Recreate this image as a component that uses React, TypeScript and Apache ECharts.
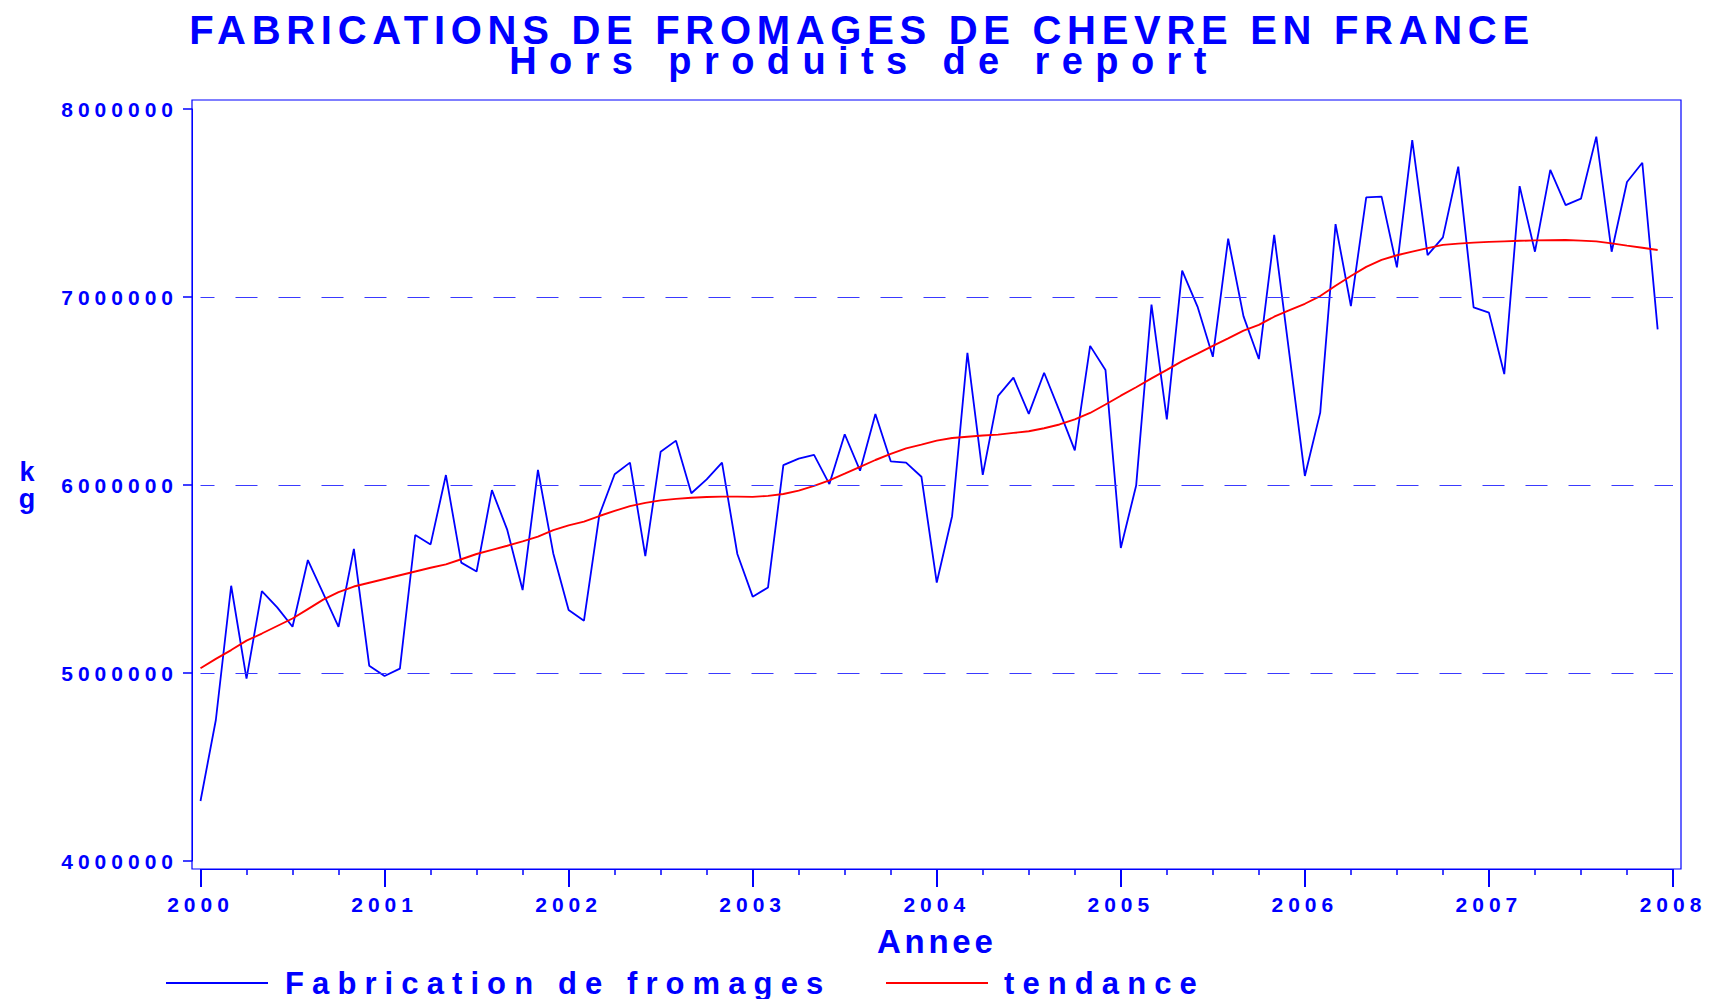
import React, { useEffect, useRef } from 'react';
import * as echarts from 'echarts';

const START_YEAR = 2000;
const END_YEAR = 2008;
const MONTHS_PER_YEAR = 12;

const TITLE = 'FABRICATIONS DE FROMAGES DE CHEVRE EN FRANCE';
const SUBTITLE = 'Hors produits de report';
const X_NAME = 'Annee';
const Y_NAME = 'k\ng';
const SERIES_NAMES = ['Fabrication de fromages', 'tendance'];

// Monthly production (kg), Jan 2000 .. Dec 2007
const PRODUCTION = [
  4319000, 4750000, 5464000, 4970000, 5436000, 5349000, 5246000, 5601000, 5424000, 5246000, 5660000, 5039000,
  4984000, 5023000, 5734000, 5684000, 6053000, 5587000, 5540000, 5973000, 5761000, 5441000, 6080000, 5636000,
  5335000, 5278000, 5840000, 6057000, 6119000, 5622000, 6177000, 6236000, 5956000, 6030000, 6119000, 5633000,
  5406000, 5455000, 6106000, 6140000, 6160000, 6005000, 6270000, 6076000, 6378000, 6126000, 6119000, 6044000,
  5481000, 5834000, 6703000, 6054000, 6474000, 6571000, 6378000, 6597000, 6394000, 6184000, 6740000, 6612000,
  5665000, 5997000, 6960000, 6349000, 7140000, 6949000, 6682000, 7310000, 6897000, 6670000, 7330000, 6690000,
  6048000, 6385000, 7388000, 6952000, 7530000, 7534000, 7158000, 7835000, 7223000, 7317000, 7693000, 6945000,
  6917000, 6590000, 7590000, 7241000, 7676000, 7489000, 7523000, 7853000, 7241000, 7612000, 7714000, 6828000,
];

// Trend (kg)
const TREND = [
  5025000, 5075000, 5122000, 5172000, 5210000, 5250000, 5290000, 5340000, 5390000, 5430000, 5460000, 5480000,
  5500000, 5520000, 5540000, 5560000, 5578000, 5605000, 5633000, 5655000, 5677000, 5700000, 5725000, 5760000,
  5785000, 5805000, 5835000, 5862000, 5888000, 5905000, 5918000, 5926000, 5932000, 5936000, 5938000, 5938000,
  5937000, 5942000, 5952000, 5970000, 5995000, 6025000, 6060000, 6097000, 6133000, 6165000, 6195000, 6215000,
  6236000, 6250000, 6257000, 6263000, 6268000, 6277000, 6286000, 6302000, 6322000, 6349000, 6383000, 6428000,
  6475000, 6520000, 6567000, 6612000, 6659000, 6699000, 6740000, 6780000, 6821000, 6852000, 6895000, 6930000,
  6964000, 7005000, 7060000, 7112000, 7160000, 7197000, 7222000, 7241000, 7260000, 7277000, 7284000, 7289000,
  7293000, 7296000, 7299000, 7301000, 7302000, 7303000, 7300000, 7296000, 7285000, 7273000, 7262000, 7250000,
];

const Y_MIN = 4000000;
const Y_MAX = 8000000;
const Y_STEP = 1000000;
const GRID_LINE_VALUES = [5000000, 6000000, 7000000];

const BLUE = '#0000ff';
const RED = '#ff0000';
const FONT = "'Liberation Sans', Arial, Helvetica, sans-serif";

const CSS = `
.fromage-chart text[style*="21px"] { letter-spacing: 5px; }
.fromage-chart text[style*="40px"] { letter-spacing: 5.7px; }
.fromage-chart text[style*="38px"] { letter-spacing: 12.4px; }
.fromage-chart text[style*="31px"] { letter-spacing: 8.1px; }
.fromage-chart text[style*="33px"] { letter-spacing: 3.7px; }
`;

const toPoints = (values: number[]) =>
  values.map((v, i) => [START_YEAR + i / MONTHS_PER_YEAR, v]);

export default function App() {
  const ref = useRef<HTMLDivElement>(null);

  useEffect(() => {
    if (!ref.current) return;
    const chart = echarts.init(ref.current, undefined, { renderer: 'svg' });
    const labelStyle = {
      color: BLUE,
      fontSize: 21,
      fontWeight: 'bold' as const,
      fontFamily: FONT,
    };
    chart.setOption({
      animation: false,
      backgroundColor: '#ffffff',
      title: [
        {
          text: TITLE,
          left: 862,
          top: 15,
          textAlign: 'center',
          padding: 0,
          textStyle: { color: BLUE, fontSize: 40, lineHeight: 29, fontWeight: 'bold', fontFamily: FONT },
        },
        {
          text: SUBTITLE,
          left: 864,
          top: 47,
          textAlign: 'center',
          padding: 0,
          textStyle: { color: BLUE, fontSize: 38, lineHeight: 28, fontWeight: 'bold', fontFamily: FONT },
        },
      ],
      legend: [
        {
          data: [SERIES_NAMES[0]],
          left: 166,
          top: 967.5,
          padding: 0,
          icon: 'rect',
          itemWidth: 102,
          itemHeight: 2,
          textStyle: { color: BLUE, fontSize: 31, fontWeight: 'bold', fontFamily: FONT, padding: [0, 0, 0, 12] },
        },
        {
          data: [SERIES_NAMES[1]],
          left: 886,
          top: 967.5,
          padding: 0,
          icon: 'rect',
          itemWidth: 102,
          itemHeight: 2,
          textStyle: { color: BLUE, fontSize: 31, fontWeight: 'bold', fontFamily: FONT, padding: [0, 0, 0, 11] },
        },
      ],
      grid: {
        left: 200.5,
        right: 36,
        top: 109,
        bottom: 138,
        containLabel: false,
        outerBoundsMode: 'none',
      },
      xAxis: {
        type: 'value',
        min: START_YEAR,
        max: END_YEAR,
        interval: 1,
        offset: 8,
        axisLine: { show: true, lineStyle: { color: BLUE, width: 1 } },
        axisTick: { show: true, length: 18, lineStyle: { color: BLUE, width: 2 } },
        minorTick: { show: true, splitNumber: 4, length: 6, lineStyle: { color: BLUE, width: 1.5 } },
        axisLabel: { ...labelStyle, margin: 25, formatter: (v: number) => String(Math.round(v)) },
        splitLine: { show: false },
        minorSplitLine: { show: false },
        name: X_NAME,
        nameLocation: 'middle',
        nameGap: 56,
        nameTextStyle: { color: BLUE, fontSize: 33, fontWeight: 'bold', fontFamily: FONT },
      },
      yAxis: {
        type: 'value',
        min: Y_MIN,
        max: Y_MAX,
        interval: Y_STEP,
        offset: 8.5,
        axisLine: { show: true, lineStyle: { color: BLUE, width: 1 } },
        axisTick: { show: true, length: 9, lineStyle: { color: BLUE, width: 1.5 } },
        axisLabel: { ...labelStyle, margin: 14, formatter: (v: number) => String(Math.round(v)) },
        splitLine: { show: false },
        name: Y_NAME,
        nameLocation: 'middle',
        nameRotate: 0,
        nameGap: 165,
        nameTextStyle: {
          color: BLUE,
          fontSize: 27,
          lineHeight: 27,
          fontWeight: 'bold',
          fontFamily: FONT,
          align: 'center',
          verticalAlign: 'middle',
        },
      },
      series: [
        {
          name: SERIES_NAMES[0],
          type: 'line',
          data: toPoints(PRODUCTION),
          symbol: 'none',
          showSymbol: false,
          lineStyle: { color: BLUE, width: 1.8 },
          itemStyle: { color: BLUE },
          z: 2,
          markLine: {
            silent: true,
            symbol: ['none', 'none'],
            label: { show: false },
            lineStyle: { color: '#3a3aff', width: 1.2, type: [22, 21], dashOffset: 8.2 },
            data: GRID_LINE_VALUES.map((v) => ({ yAxis: v })),
          },
        },
        {
          name: SERIES_NAMES[1],
          type: 'line',
          data: toPoints(TREND),
          symbol: 'none',
          showSymbol: false,
          lineStyle: { color: RED, width: 1.9 },
          itemStyle: { color: RED },
          z: 3,
        },
      ],
      graphic: [
        {
          type: 'rect',
          silent: true,
          z: 100,
          shape: { x: 192, y: 100, width: 1489, height: 769 },
          style: { fill: 'none', stroke: BLUE, lineWidth: 1.2 },
        },
      ],
    });
    return () => chart.dispose();
  }, []);

  return (
    <>
      <style>{CSS}</style>
      <div
        ref={ref}
        className="fromage-chart"
        style={{ position: 'fixed', left: 0, top: 0, width: 1709, height: 999, background: '#fff' }}
      />
    </>
  );
}
